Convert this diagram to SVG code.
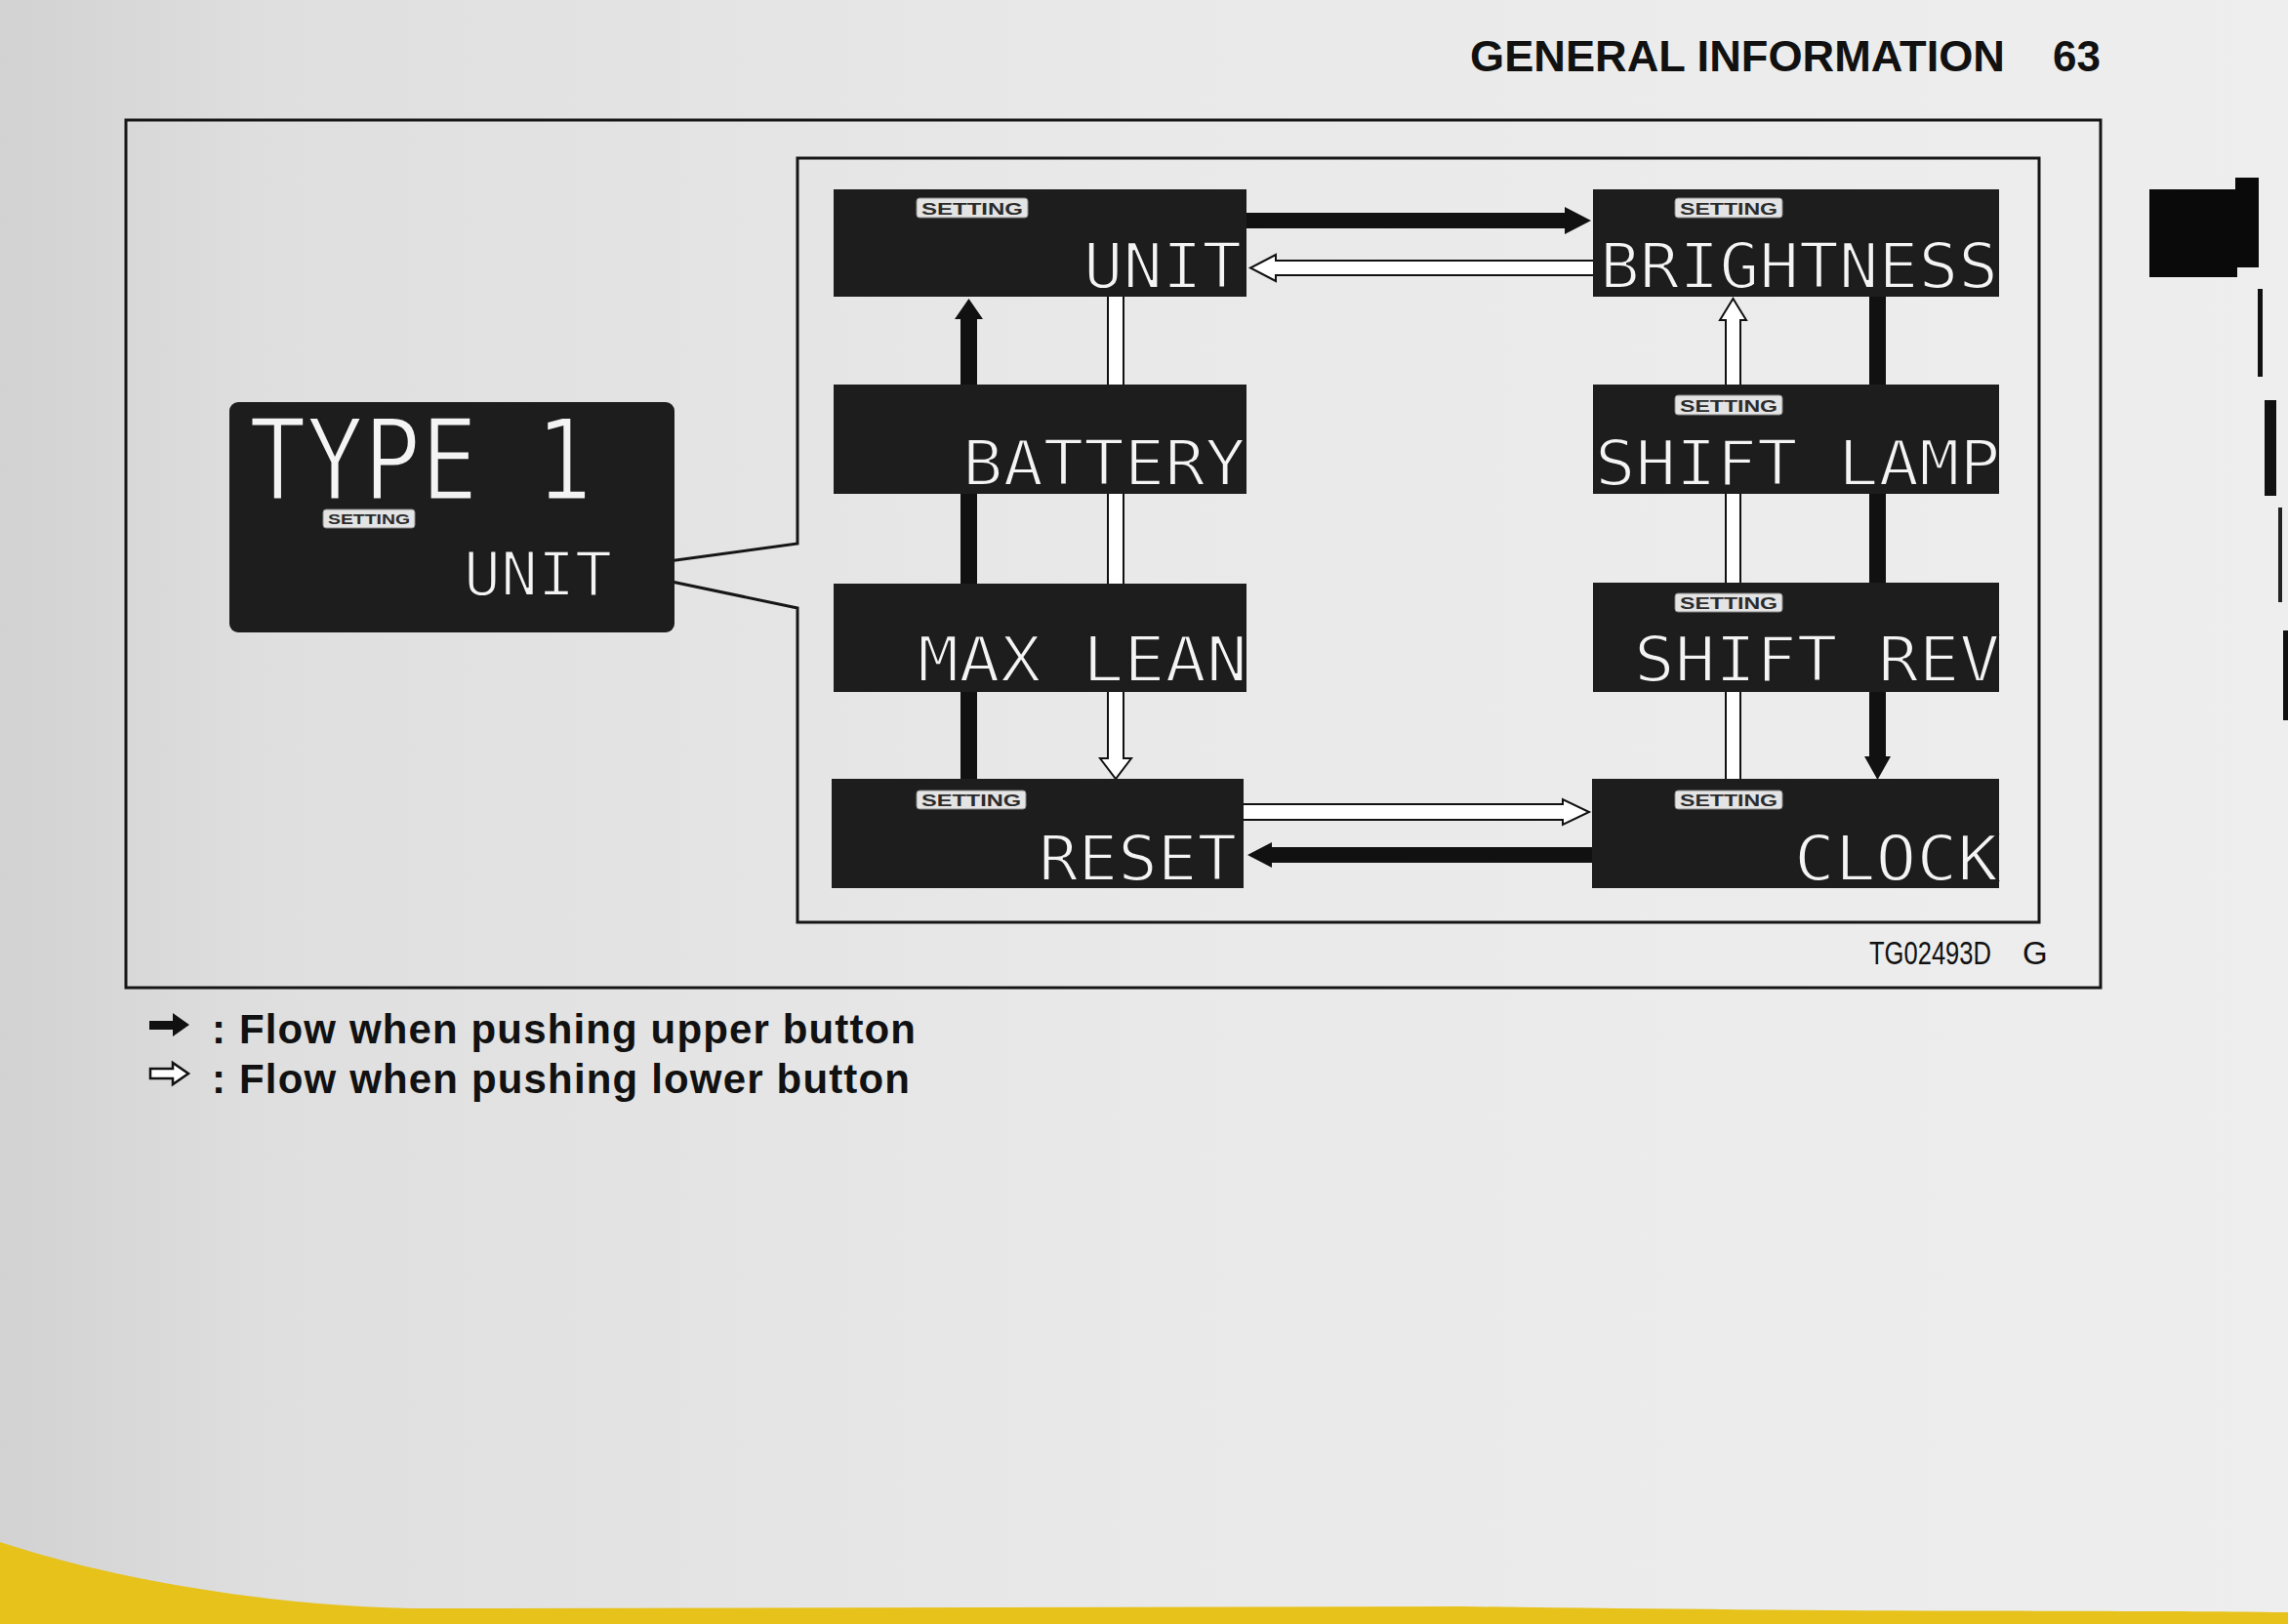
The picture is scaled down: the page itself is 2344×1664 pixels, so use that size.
<svg xmlns="http://www.w3.org/2000/svg" width="2344" height="1664" viewBox="0 0 2344 1664">
<defs>
<linearGradient id="paper" x1="0" y1="0" x2="1" y2="0">
<stop offset="0" stop-color="#d2d2d2"/>
<stop offset="0.12" stop-color="#dfdfdf"/>
<stop offset="0.5" stop-color="#e9e9e9"/>
<stop offset="1" stop-color="#eeeeee"/>
</linearGradient>
<style>
.box{fill:#1d1d1d;}
.seg{font-family:"DejaVu Sans Mono","Liberation Mono",monospace;fill:#f4f4f4;font-size:64px;stroke:#1d1d1d;stroke-width:2;}
.badge{fill:#e4e4e4;stroke:#888;stroke-width:1;}
.badgetxt{font-family:"Liberation Sans",Arial,sans-serif;font-weight:bold;font-size:17px;fill:#2b2b2b;}
.blk{fill:#111;}
.wht{fill:#fff;stroke:#111;stroke-width:2;stroke-linejoin:miter;}
.frame{fill:none;stroke:#161616;stroke-width:3;}
.hdr{font-family:"Liberation Sans",Arial,sans-serif;font-weight:bold;fill:#111;}
</style>
</defs>
<rect x="0" y="0" width="2344" height="1664" fill="url(#paper)"/>
<path d="M0 1580 C 120 1620, 300 1650, 460 1648 L 1500 1646 C 1900 1652, 2200 1650, 2344 1652 L 2344 1664 L 0 1664 Z" fill="#e7c21a"/>

<g id="header">
<text class="hdr" x="1506" y="73" style="font-size:44px"><tspan textLength="548" lengthAdjust="spacingAndGlyphs">GENERAL INFORMATION</tspan><tspan x="2103">63</tspan></text>
</g>

<g id="page-tab">
<rect x="2202" y="194" width="90" height="90" fill="#0a0a0a"/>
<rect x="2290" y="182" width="24" height="92" fill="#0a0a0a"/>
<rect x="2313" y="296" width="5" height="90" fill="#111"/>
<rect x="2320" y="410" width="12" height="98" fill="#111"/>
<rect x="2334" y="520" width="4" height="97" fill="#222"/>
<rect x="2339" y="646" width="5" height="92" fill="#111"/>
</g>

<g id="outer-frame">
<rect class="frame" x="129" y="123" width="2023" height="889"/>
</g>

<g id="callout-frame">
<path class="frame" d="M817 557 L817 162 L2089 162 L2089 945 L817 945 L817 623 L626 583 Z"/>
</g>

<g id="connectors">
<polygon class="blk" points="1275,218 1603,218 1603,212 1630,226 1603,240 1603,234 1275,234"/>
<polygon class="wht" points="1634,267 1307,267 1307,261 1281,274.5 1307,288 1307,282 1634,282"/>
<polygon class="blk" points="984,800 984,327 978,327 992.5,306 1007,327 1001,327 1001,800"/>
<polygon class="wht" points="1135,302 1135,777 1127,777 1143,798 1159,777 1151,777 1151,302"/>
<polygon class="wht" points="1768,800 1768,328 1762,328 1775.5,306 1789,328 1783,328 1783,800"/>
<polygon class="blk" points="1915,302 1915,775 1910,775 1923.5,799 1937,775 1932,775 1932,302"/>
<polygon class="wht" points="1272,824 1601,824 1601,819 1628,832 1601,845 1601,840 1272,840"/>
<polygon class="blk" points="1633,868 1303,868 1303,863 1278,876 1303,889 1303,884 1633,884"/>
</g>

<g id="node-type1">
<rect class="box" x="235" y="412" width="456" height="236" rx="9"/>
<text class="seg" x="255" y="512" style="font-size:115px;stroke-width:3" textLength="352" lengthAdjust="spacingAndGlyphs">TYPE 1</text>
<rect class="badge" x="331" y="522" width="94" height="19" rx="3"/>
<text class="badgetxt" x="336" y="537" style="font-size:15px" textLength="84" lengthAdjust="spacingAndGlyphs">SETTING</text>
<text class="seg" x="475" y="610" style="font-size:62px" textLength="152" lengthAdjust="spacingAndGlyphs">UNIT</text>
</g>

<g id="node-unit">
<rect class="box" x="854" y="194" width="423" height="110"/>
<rect class="badge" x="939" y="203" width="114" height="20" rx="3"/>
<text class="badgetxt" x="944" y="220" textLength="104" lengthAdjust="spacingAndGlyphs">SETTING</text>
<text class="seg" x="1110" y="295" textLength="162" lengthAdjust="spacingAndGlyphs">UNIT</text>
</g>

<g id="node-brightness">
<rect class="box" x="1632" y="194" width="416" height="110"/>
<rect class="badge" x="1716" y="203" width="110" height="20" rx="3"/>
<text class="badgetxt" x="1721" y="220" textLength="100" lengthAdjust="spacingAndGlyphs">SETTING</text>
<text class="seg" x="1639" y="295" textLength="408" lengthAdjust="spacingAndGlyphs">BRIGHTNESS</text>
</g>

<g id="node-battery">
<rect class="box" x="854" y="394" width="423" height="112"/>
<text class="seg" x="986" y="497" textLength="290" lengthAdjust="spacingAndGlyphs">BATTERY</text>
</g>

<g id="node-shift-lamp">
<rect class="box" x="1632" y="394" width="416" height="112"/>
<rect class="badge" x="1716" y="405" width="110" height="20" rx="3"/>
<text class="badgetxt" x="1721" y="422" textLength="100" lengthAdjust="spacingAndGlyphs">SETTING</text>
<text class="seg" x="1634" y="497" textLength="415" lengthAdjust="spacingAndGlyphs">SHIFT LAMP</text>
</g>

<g id="node-max-lean">
<rect class="box" x="854" y="598" width="423" height="111"/>
<text class="seg" x="940" y="698" textLength="338" lengthAdjust="spacingAndGlyphs">MAX LEAN</text>
</g>

<g id="node-shift-rev">
<rect class="box" x="1632" y="597" width="416" height="112"/>
<rect class="badge" x="1716" y="608" width="110" height="19" rx="3"/>
<text class="badgetxt" x="1721" y="624" textLength="100" lengthAdjust="spacingAndGlyphs">SETTING</text>
<text class="seg" x="1674" y="698" textLength="375" lengthAdjust="spacingAndGlyphs">SHIFT REV</text>
</g>

<g id="node-reset">
<rect class="box" x="852" y="798" width="422" height="112"/>
<rect class="badge" x="939" y="810" width="112" height="19" rx="3"/>
<text class="badgetxt" x="944" y="826" textLength="102" lengthAdjust="spacingAndGlyphs">SETTING</text>
<text class="seg" x="1064" y="902" textLength="203" lengthAdjust="spacingAndGlyphs">RESET</text>
</g>

<g id="node-clock">
<rect class="box" x="1631" y="798" width="417" height="112"/>
<rect class="badge" x="1716" y="810" width="110" height="19" rx="3"/>
<text class="badgetxt" x="1721" y="826" textLength="100" lengthAdjust="spacingAndGlyphs">SETTING</text>
<text class="seg" x="1838" y="902" textLength="209" lengthAdjust="spacingAndGlyphs">CLOCK</text>
</g>

<g id="figure-code">
<text x="1915" y="988" style="font-family:'Liberation Sans',Arial,sans-serif;font-size:33px;fill:#111"><tspan textLength="125" lengthAdjust="spacingAndGlyphs">TG02493D</tspan><tspan x="2072">G</tspan></text>
</g>

<g id="legend">
<polygon class="blk" points="153,1046 177,1046 177,1038 194,1050 177,1062 177,1055 153,1055"/>
<polygon class="wht" points="154,1095 177,1095 177,1089 193,1100 177,1111 177,1105 154,1105" style="stroke-width:2.5"/>
<text class="hdr" x="217" y="1069" style="font-size:42px" textLength="721" lengthAdjust="spacing">: Flow when pushing upper button</text>
<text class="hdr" x="217" y="1120" style="font-size:42px" textLength="715" lengthAdjust="spacing">: Flow when pushing lower button</text>
</g>
</svg>
